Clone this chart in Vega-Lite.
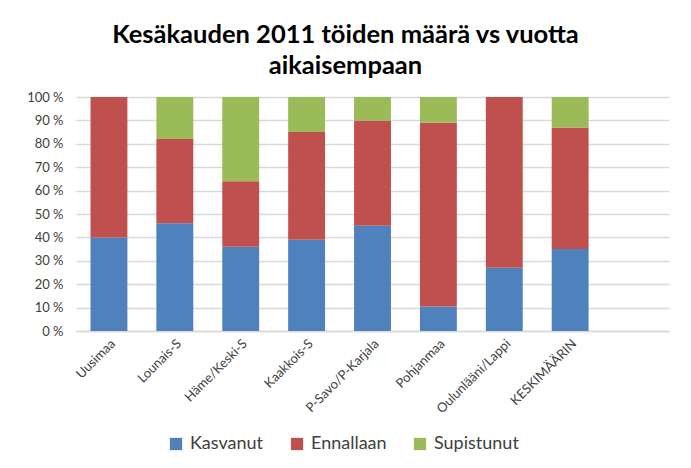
{
  "$schema": "https://vega.github.io/schema/vega-lite/v6.json",
  "autosize": {"type": "none"},
  "width": 593,
  "height": 234,
  "padding": {"left": 76, "top": 97, "right": 22, "bottom": 137},
  "background": "white",
  "title": {
    "text": ["Kesäkauden 2011 töiden määrä vs vuotta", "aikaisempaan"],
    "font": "Lato",
    "fontSize": 25.5,
    "fontWeight": "bold",
    "color": "#000000",
    "anchor": "middle",
    "dx": -27,
    "lineHeight": 31,
    "offset": 12
  },
  "data": {
    "values": [
      {"alue": "Uusimaa", "s": "Kasvanut", "v": 40},
      {"alue": "Uusimaa", "s": "Ennallaan", "v": 60},
      {"alue": "Uusimaa", "s": "Supistunut", "v": 0},
      {"alue": "Lounais-S", "s": "Kasvanut", "v": 46},
      {"alue": "Lounais-S", "s": "Ennallaan", "v": 36},
      {"alue": "Lounais-S", "s": "Supistunut", "v": 18},
      {"alue": "Häme/Keski-S", "s": "Kasvanut", "v": 36},
      {"alue": "Häme/Keski-S", "s": "Ennallaan", "v": 28},
      {"alue": "Häme/Keski-S", "s": "Supistunut", "v": 36},
      {"alue": "Kaakkois-S", "s": "Kasvanut", "v": 39},
      {"alue": "Kaakkois-S", "s": "Ennallaan", "v": 46},
      {"alue": "Kaakkois-S", "s": "Supistunut", "v": 15},
      {"alue": "P-Savo/P-Karjala", "s": "Kasvanut", "v": 45},
      {"alue": "P-Savo/P-Karjala", "s": "Ennallaan", "v": 45},
      {"alue": "P-Savo/P-Karjala", "s": "Supistunut", "v": 10},
      {"alue": "Pohjanmaa", "s": "Kasvanut", "v": 10.5},
      {"alue": "Pohjanmaa", "s": "Ennallaan", "v": 78.5},
      {"alue": "Pohjanmaa", "s": "Supistunut", "v": 11},
      {"alue": "Oulunlääni/Lappi", "s": "Kasvanut", "v": 27},
      {"alue": "Oulunlääni/Lappi", "s": "Ennallaan", "v": 73},
      {"alue": "Oulunlääni/Lappi", "s": "Supistunut", "v": 0},
      {"alue": "KESKIMÄÄRIN", "s": "Kasvanut", "v": 35},
      {"alue": "KESKIMÄÄRIN", "s": "Ennallaan", "v": 52},
      {"alue": "KESKIMÄÄRIN", "s": "Supistunut", "v": 13}
    ]
  },
  "transform": [
    {"calculate": "indexof(['Kasvanut','Ennallaan','Supistunut'], datum.s)", "as": "ord"}
  ],
  "mark": {"type": "bar", "strokeWidth": 0.6},
  "encoding": {
    "x": {
      "field": "alue",
      "type": "nominal",
      "scale": {
        "domain": ["Uusimaa", "Lounais-S", "Häme/Keski-S", "Kaakkois-S", "P-Savo/P-Karjala", "Pohjanmaa", "Oulunlääni/Lappi", "KESKIMÄÄRIN", " "],
        "paddingInner": 0.44,
        "paddingOuter": 0.22
      },
      "axis": {
        "title": null,
        "labelAngle": -45,
        "labelFont": "Lato",
        "labelFontSize": 13,
        "labelColor": "#404040",
        "ticks": false,
        "domainColor": "#d9d9d9",
        "domainWidth": 1.5,
        "labelPadding": 6
      }
    },
    "y": {
      "field": "v",
      "type": "quantitative",
      "stack": "normalize",
      "scale": {"domain": [0, 1]},
      "axis": {
        "title": null,
        "values": [0, 0.1, 0.2, 0.3, 0.4, 0.5, 0.6, 0.7, 0.8, 0.9, 1],
        "labelExpr": "round(datum.value * 100) + ' %'",
        "labelFont": "Lato",
        "labelFontSize": 13,
        "labelColor": "#404040",
        "ticks": false,
        "domain": false,
        "gridColor": "#d9d9d9",
        "gridWidth": 1.5,
        "labelPadding": 13
      }
    },
    "color": {
      "field": "s",
      "type": "nominal",
      "scale": {
        "domain": ["Kasvanut", "Ennallaan", "Supistunut"],
        "range": ["#4F81BD", "#C0504D", "#9BBB59"]
      },
      "legend": {
        "title": null,
        "orient": "none",
        "direction": "horizontal",
        "legendX": 91,
        "legendY": 338,
        "symbolType": "square",
        "symbolSize": 150,
        "symbolStrokeWidth": 0,
        "labelFont": "Lato",
        "labelFontSize": 18,
        "labelColor": "#404040",
        "columnPadding": 24,
        "labelOffset": 5
      }
    },
    "order": {"field": "ord", "type": "quantitative"}
  },
  "config": {
    "view": {"stroke": null}
  }
}
